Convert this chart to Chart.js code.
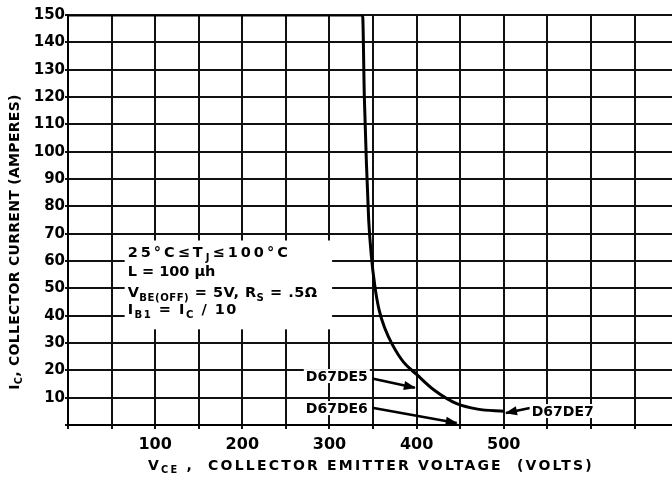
<!DOCTYPE html>
<html>
<head>
<meta charset="utf-8">
<script src="https://cdn.jsdelivr.net/npm/chart.js@4.4.0/dist/chart.umd.min.js"></script>
<style>
  body { margin: 0; background: #fff; }
  #wrap { width: 672px; height: 485px; }
</style>
</head>
<body>
<div id="wrap"><canvas id="grafico" width="672" height="485"></canvas></div>
<script>
// curva limite (D67DE7)
const voltsCurva = [0, 338, 340, 342.5, 345, 348, 352, 357, 364, 372, 385, 400, 420, 446, 470, 500];
const ampsCurva = [150, 150, 120, 95, 75, 62, 51, 42, 35, 29.5, 23, 18.5, 12.8, 7.8, 5.8, 5];

// setas das curvas
const voltsSeta5 = [349, 398];
const ampsSeta5 = [17, 13.6];
const voltsSeta6 = [349, 446];
const ampsSeta6 = [6.3, 0.7];
const voltsSeta7 = [530, 502.5];
const ampsSeta7 = [6.2, 4.4];

const nomesCurvas = ['D67DE5', 'D67DE6', 'D67DE7'];
const voltsNomes = [344, 344, 532];
const ampsNomes = [17.9, 6.2, 5.1];

const ticksX = [100, 200, 300, 400, 500];
const ticksY = [10, 20, 30, 40, 50, 60, 70, 80, 90, 100, 110, 120, 130, 140, 150];

// texto da caixa: [texto, subscrito]
const condicoes = [
  [['25°C≤T', 0], ['J', 1], ['≤100°C', 0]],
  [['L = 100 µh', 0]],
  [['V', 0], ['BE(OFF)', 1], [' = 5V, R', 0], ['S', 1], [' = .5Ω', 0]],
  [['I', 0], ['B1', 1], [' = I', 0], ['C', 1], [' / 10', 0]]
];
const caixaVolts = [65, 303];
const caixaAmps = [35, 67.5];

const tituloX = [['V', 0], ['CE', 1], [' ,  COLLECTOR EMITTER VOLTAGE  (VOLTS)', 0]];
const tituloY = [['I', 0], ['C', 1], [', COLLECTOR CURRENT (AMPERES)', 0]];

const fonte = '"DejaVu Sans", "Liberation Sans", sans-serif';

function pontos(xs, ys) {
  return xs.map((x, i) => ({ x: x, y: ys[i] }));
}

function larguraRica(ctx, partes, tam) {
  let w = 0;
  partes.forEach(p => {
    ctx.font = 'bold ' + (p[1] ? tam * 0.7 : tam) + 'px ' + fonte;
    w += ctx.measureText(p[0]).width;
  });
  return w;
}

function textoRico(ctx, partes, x, y, tam, alinhar, espaco) {
  ctx.letterSpacing = (espaco || 0) + 'px';
  let w = larguraRica(ctx, partes, tam);
  let px = alinhar == 'center' ? x - w / 2 : x;
  ctx.textAlign = 'left';
  ctx.textBaseline = 'middle';
  partes.forEach(p => {
    const t = p[1] ? tam * 0.7 : tam;
    ctx.font = 'bold ' + t + 'px ' + fonte;
    ctx.fillText(p[0], px, p[1] ? y + tam * 0.35 : y);
    px += ctx.measureText(p[0]).width;
  });
  ctx.letterSpacing = '0px';
}

function ponta(ctx, x1, y1, x2, y2) {
  const ang = Math.atan2(y2 - y1, x2 - x1);
  ctx.save();
  ctx.translate(x2, y2);
  ctx.rotate(ang);
  ctx.beginPath();
  ctx.moveTo(1, 0);
  ctx.lineTo(-11, -4.5);
  ctx.lineTo(-11, 4.5);
  ctx.closePath();
  ctx.fill();
  ctx.restore();
}

const extras = {
  id: 'extras',
  afterDatasetsDraw(chart) {
    const ctx = chart.ctx;
    const sx = chart.scales.x, sy = chart.scales.y;
    ctx.save();
    ctx.fillStyle = '#000';

    // caixa das condicoes
    const bx1 = sx.getPixelForValue(caixaVolts[0]), bx2 = sx.getPixelForValue(caixaVolts[1]);
    const by1 = sy.getPixelForValue(caixaAmps[1]), by2 = sy.getPixelForValue(caixaAmps[0]);
    ctx.fillStyle = '#fff';
    ctx.fillRect(bx1, by1, bx2 - bx1, by2 - by1);
    ctx.fillStyle = '#000';
    const offs = [13, 32, 53, 70];
    const espacos = [3, 0, 0.5, 1.5];
    condicoes.forEach((linha, i) => textoRico(ctx, linha, bx1 + 3, by1 + offs[i], 14.5, 'left', espacos[i]));

    // nomes das curvas
    ctx.font = 'bold 14px ' + fonte;
    ctx.textBaseline = 'middle';
    nomesCurvas.forEach((n, i) => {
      const x = sx.getPixelForValue(voltsNomes[i]);
      const y = sy.getPixelForValue(ampsNomes[i]);
      const w = ctx.measureText(n).width;
      const x0 = i < 2 ? x - w : x;
      ctx.fillStyle = '#fff';
      ctx.fillRect(x0 - 2, y - 7, w + 4, 14);
      ctx.fillStyle = '#000';
      ctx.textAlign = 'left';
      ctx.fillText(n, x0, y + 1);
    });

    // pontas das setas
    [[voltsSeta5, ampsSeta5], [voltsSeta6, ampsSeta6], [voltsSeta7, ampsSeta7]].forEach(s => {
      ponta(ctx, sx.getPixelForValue(s[0][0]), sy.getPixelForValue(s[1][0]),
        sx.getPixelForValue(s[0][1]), sy.getPixelForValue(s[1][1]));
    });

    // titulos dos eixos
    textoRico(ctx, tituloX, 371, 466, 14, 'center', 2.2);
    ctx.translate(15, 242);
    ctx.rotate(-Math.PI / 2);
    textoRico(ctx, tituloY, 0, 0, 14, 'center', 0.3);
    ctx.restore();
  }
};

const ctx = document.getElementById('grafico');
Chart.defaults.color = '#000';
new Chart(ctx, {
  type: 'scatter',
  data: {
    datasets: [
      { data: pontos(voltsCurva, ampsCurva), borderWidth: 3, cubicInterpolationMode: 'monotone' },
      { data: pontos(voltsSeta5, ampsSeta5), borderWidth: 2.5 },
      { data: pontos(voltsSeta6, ampsSeta6), borderWidth: 2.5 },
      { data: pontos(voltsSeta7, ampsSeta7), borderWidth: 2.5 }
    ].map(d => Object.assign(d, { showLine: true, pointRadius: 0, borderColor: '#000', backgroundColor: '#000' }))
  },
  options: {
    responsive: false,
    animation: false,
    layout: { padding: { top: 15, right: 0, left: 0, bottom: 0 } },
    plugins: { legend: { display: false }, tooltip: { enabled: false } },
    scales: {
      x: {
        min: 0, max: 693,
        grid: { color: '#111', lineWidth: 2, tickLength: 4 },
        border: { color: '#000', width: 2 },
        ticks: {
          stepSize: 50, includeBounds: false, autoSkip: false, maxRotation: 0, padding: 6,
          font: { family: fonte, size: 16, weight: 'bold' },
          callback: v => ticksX.includes(v) ? v : ''
        },
        afterFit: s => { s.height = 60; }
      },
      y: {
        min: 0, max: 150,
        grid: { color: '#111', lineWidth: 2, tickLength: 3 },
        border: { color: '#000', width: 2 },
        ticks: {
          stepSize: 10, autoSkip: false, padding: 0,
          font: { family: fonte, size: 15, weight: 'bold' },
          callback: v => ticksY.includes(v) ? v : ''
        },
        afterFit: s => { s.width = 68; }
      }
    }
  },
  plugins: [extras]
});
</script>
</body>
</html>
